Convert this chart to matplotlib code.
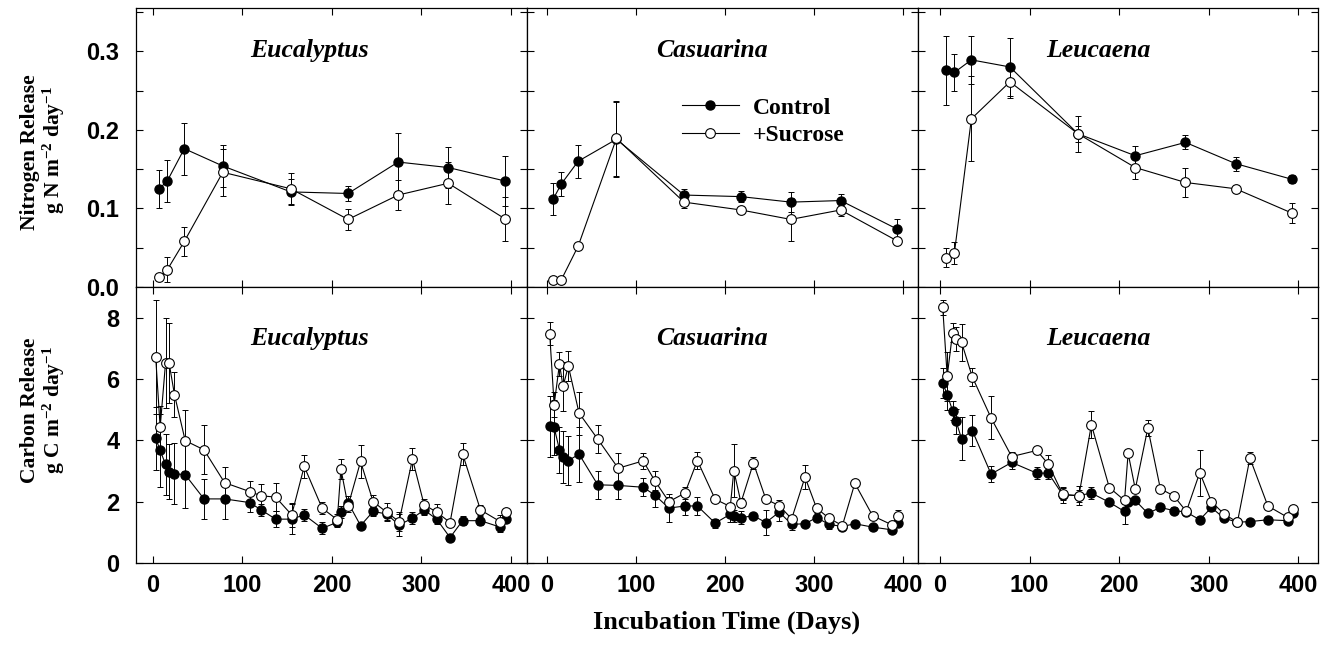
import matplotlib
matplotlib.use("Agg")
import matplotlib.pyplot as plt
from matplotlib.ticker import MultipleLocator, FixedLocator

plt.rcParams['font.family'] = ['Liberation Sans', 'DejaVu Sans']
plt.rcParams['mathtext.fontset'] = 'custom'
plt.rcParams['mathtext.rm'] = 'Liberation Serif:bold'
plt.rcParams['mathtext.it'] = 'Liberation Serif:bold'
plt.rcParams['mathtext.bf'] = 'Liberation Serif:bold'

species = ["Eucalyptus", "Casuarina", "Leucaena"]

# nitrogen release (top row)
days_N = [7, 16, 35, 78, 154, 218, 274, 330, 393]
N_control = {
    "Eucalyptus": [0.125, 0.135, 0.176, 0.154, 0.121, 0.119, 0.159, 0.152, 0.135],
    "Casuarina": [0.112, 0.131, 0.160, 0.188, 0.117, 0.115, 0.108, 0.110, 0.074],
    "Leucaena": [0.276, 0.273, 0.289, 0.280, 0.195, 0.167, 0.184, 0.157, 0.137],
}
N_control_err = {
    "Eucalyptus": [0.024, 0.027, 0.033, 0.027, 0.017, 0.010, 0.037, 0.026, 0.032],
    "Casuarina": [0.020, 0.015, 0.021, 0.048, 0.008, 0.007, 0.013, 0.008, 0.012],
    "Leucaena": [0.044, 0.024, 0.031, 0.037, 0.010, 0.013, 0.009, 0.009, 0.005],
}
N_sucrose = {
    "Eucalyptus": [0.013, 0.022, 0.058, 0.146, 0.125, 0.086, 0.117, 0.132, 0.087],
    "Casuarina": [0.009, 0.009, 0.052, 0.189, 0.108, 0.098, 0.086, 0.098, 0.059],
    "Leucaena": [0.037, 0.043, 0.214, 0.261, 0.195, 0.152, 0.133, 0.125, 0.094],
}
N_sucrose_err = {
    "Eucalyptus": [0.004, 0.016, 0.018, 0.030, 0.020, 0.013, 0.019, 0.027, 0.028],
    "Casuarina": [0.002, 0.002, 0.004, 0.048, 0.007, 0.004, 0.027, 0.008, 0.004],
    "Leucaena": [0.012, 0.014, 0.054, 0.020, 0.023, 0.015, 0.018, 0.005, 0.013],
}

# carbon release (bottom row)
days_C = [3, 8, 14, 18, 24, 36, 57, 80, 108, 121, 137, 155, 169, 189, 206,
          210, 218, 232, 246, 261, 275, 290, 303, 317, 332, 346, 366, 388, 394]
C_control = {
    "Eucalyptus": [4.07, 3.67, 3.22, 2.98, 2.91, 2.88, 2.09, 2.09, 1.97, 1.73, 1.43, 1.43, 1.57, 1.13, 1.33,
                   1.66, 1.97, 1.22, 1.68, 1.60, 1.24, 1.46, 1.73, 1.43, 0.83, 1.38, 1.38, 1.17, 1.43],
    "Casuarina": [4.46, 4.42, 3.69, 3.47, 3.34, 3.55, 2.55, 2.53, 2.47, 2.22, 1.79, 1.86, 1.86, 1.30, 1.59,
                  1.54, 1.48, 1.54, 1.32, 1.66, 1.26, 1.28, 1.48, 1.26, 1.19, 1.28, 1.17, 1.08, 1.30],
    "Leucaena": [5.87, 5.49, 4.97, 4.62, 4.05, 4.32, 2.90, 3.28, 2.93, 2.93, 2.22, 2.20, 2.28, 1.98, 1.68,
                 2.00, 2.04, 1.62, 1.81, 1.71, 1.66, 1.41, 1.81, 1.46, 1.33, 1.35, 1.41, 1.38, 1.62],
}
C_control_err = {
    "Eucalyptus": [1.03, 1.2, 1.0, 0.9, 1.0, 1.1, 0.65, 0.65, 0.3, 0.2, 0.25, 0.5, 0.2, 0.2, 0.15,
                   0.2, 0.2, 0.1, 0.15, 0.2, 0.35, 0.2, 0.15, 0.15, 0.1, 0.15, 0.15, 0.15, 0.1],
    "Casuarina": [1.0, 0.9, 0.75, 0.85, 0.8, 0.9, 0.45, 0.45, 0.3, 0.4, 0.45, 0.3, 0.3, 0.15, 0.25,
                  0.2, 0.2, 0.1, 0.4, 0.3, 0.2, 0.1, 0.1, 0.15, 0.1, 0.1, 0.1, 0.1, 0.1],
    "Leucaena": [0.5, 0.5, 0.3, 0.4, 0.7, 0.5, 0.25, 0.2, 0.2, 0.2, 0.25, 0.3, 0.2, 0.1, 0.4,
                 0.1, 0.1, 0.1, 0.1, 0.1, 0.1, 0.1, 0.1, 0.1, 0.1, 0.1, 0.1, 0.1, 0.1],
}
C_sucrose = {
    "Eucalyptus": [6.72, 4.42, 6.52, 6.52, 5.49, 3.99, 3.69, 2.62, 2.33, 2.19, 2.15, 1.57, 3.15, 1.79, 1.41,
                   3.07, 1.86, 3.31, 2.00, 1.66, 1.35, 3.39, 1.90, 1.66, 1.32, 3.56, 1.73, 1.35, 1.66],
    "Casuarina": [7.48, 5.16, 6.49, 5.76, 6.42, 4.89, 4.04, 3.09, 3.33, 2.69, 2.00, 2.28, 3.34, 2.08, 1.84,
                  3.01, 1.97, 3.26, 2.08, 1.87, 1.44, 2.80, 1.79, 1.46, 1.22, 2.60, 1.54, 1.24, 1.54],
    "Leucaena": [8.34, 6.09, 7.51, 7.31, 7.20, 6.07, 4.73, 3.47, 3.67, 3.22, 2.24, 2.19, 4.51, 2.46, 2.04,
                 3.58, 2.41, 4.40, 2.42, 2.19, 1.68, 2.95, 2.00, 1.60, 1.33, 3.42, 1.86, 1.49, 1.76],
}
C_sucrose_err = {
    "Eucalyptus": [1.85, 0.7, 1.47, 1.3, 0.73, 1.0, 0.8, 0.5, 0.33, 0.4, 0.46, 0.4, 0.38, 0.2, 0.2,
                   0.33, 0.2, 0.54, 0.22, 0.3, 0.3, 0.36, 0.2, 0.26, 0.1, 0.35, 0.15, 0.2, 0.1],
    "Casuarina": [0.37, 0.4, 0.4, 0.8, 0.5, 0.7, 0.45, 0.5, 0.25, 0.3, 0.15, 0.2, 0.27, 0.1, 0.1,
                  0.87, 0.15, 0.2, 0.1, 0.2, 0.1, 0.4, 0.15, 0.1, 0.05, 0.1, 0.1, 0.1, 0.2],
    "Leucaena": [0.25, 0.8, 0.3, 0.4, 0.6, 0.3, 0.7, 0.15, 0.1, 0.3, 0.2, 0.2, 0.45, 0.1, 0.1,
                 0.1, 0.1, 0.25, 0.1, 0.1, 0.1, 0.75, 0.1, 0.1, 0.1, 0.2, 0.1, 0.1, 0.1],
}

x_ticks = [0, 100, 200, 300, 400]

W, H = 1329, 645
# panel edges in pixels
col_px = [(136, 527), (527, 918), (918, 1318)]
row_px = [(8, 287), (287, 563)]
xlims = [(-19, 418), (-22.5, 417), (-24.6, 422)]
title_x = [0.445, 0.473, 0.452]


def draw_series(ax, days, ctrl, ctrl_err, suc, suc_err):
    ax.errorbar(days, ctrl, yerr=ctrl_err, fmt='none', ecolor='black',
                elinewidth=0.7, capsize=2, capthick=0.7, zorder=2)
    ax.errorbar(days, suc, yerr=suc_err, fmt='none', ecolor='black',
                elinewidth=0.7, capsize=2, capthick=0.7, zorder=2)
    ax.plot(days, ctrl, '-o', color='black', lw=0.8, ms=6.5,
            mfc='black', mec='black', zorder=3, label='Control')
    ax.plot(days, suc, '-o', color='black', lw=0.8, ms=7,
            mfc='white', mec='black', mew=0.8, zorder=4, label='+Sucrose')


def style_axes(ax, row, col):
    ax.tick_params(which='both', direction='in', top=True, right=True,
                   length=5, width=0.8, labelsize=17)
    ax.tick_params(axis='y', pad=12)
    ax.tick_params(axis='x', pad=8)
    for sp in ax.spines.values():
        sp.set_linewidth(0.9)
    ax.set_xticks(x_ticks)
    ax.set_xlim(*xlims[col])
    if row == 0:
        ax.set_ylim(0, 0.355)
        ax.yaxis.set_major_locator(FixedLocator([0.0, 0.1, 0.2, 0.3]))
        ax.yaxis.set_minor_locator(MultipleLocator(0.05))
        ax.set_yticklabels(['0.0', '0.1', '0.2', '0.3'])
        ax.tick_params(labelbottom=False)
    else:
        ax.set_ylim(0, 9.0)
        ax.set_yticks([0, 2, 4, 6, 8])
        ax.set_xticklabels([str(t) for t in x_ticks])
    if col != 0:
        ax.tick_params(labelleft=False)
    for lab in ax.get_xticklabels() + ax.get_yticklabels():
        lab.set_fontweight('bold')


fig = plt.figure(figsize=(W / 100, H / 100), dpi=100)

axes = {}
for row in range(2):
    for col in range(3):
        x0, x1 = col_px[col]
        y0, y1 = row_px[row]
        ax = fig.add_axes([x0 / W, 1 - y1 / H, (x1 - x0) / W, (y1 - y0) / H])
        name = species[col]
        if row == 0:
            draw_series(ax, days_N, N_control[name], N_control_err[name],
                        N_sucrose[name], N_sucrose_err[name])
        else:
            draw_series(ax, days_C, C_control[name], C_control_err[name],
                        C_sucrose[name], C_sucrose_err[name])
        style_axes(ax, row, col)
        ty = 0.848 if row == 0 else 0.815
        ax.text(title_x[col], ty, name, transform=ax.transAxes,
                ha='center', va='center', fontsize=18.5, fontweight='bold',
                fontstyle='italic', family='Liberation Serif')
        axes[(row, col)] = ax

# legend in the middle top panel
axes[(0, 1)].legend(loc='upper left', bbox_to_anchor=(682 / W, 1 - 97 / H),
                    bbox_transform=fig.transFigure, frameon=False,
                    prop={'family': 'Liberation Serif', 'weight': 'bold', 'size': 17},
                    handlelength=2.4, handletextpad=0.6, labelspacing=0.25,
                    borderpad=0, borderaxespad=0)

# axis labels
lab_font = dict(family='Liberation Serif', fontweight='bold', fontsize=15.5,
                rotation=90, ha='center', va='center')
fig.text(30 / W, 1 - 152 / H, "Nitrogen Release", **lab_font)
fig.text(54 / W, 1 - 150 / H, r"g N m$^{-2}$ day$^{-1}$", **lab_font)
fig.text(30 / W, 1 - 410 / H, "Carbon Release", **lab_font)
fig.text(54 / W, 1 - 410 / H, r"g C m$^{-2}$ day$^{-1}$", **lab_font)
fig.text(727 / W, 1 - 622 / H, "Incubation Time (Days)", family='Liberation Serif',
         fontweight='bold', fontsize=19, ha='center', va='center')

fig.savefig("out.png", dpi=100)
